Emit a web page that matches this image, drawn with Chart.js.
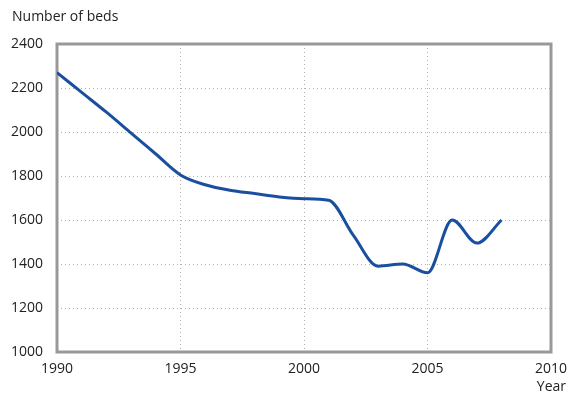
<!DOCTYPE html>
<html><head><meta charset="utf-8">
<script src="https://cdn.jsdelivr.net/npm/chart.js@4"></script>
<style>html,body{margin:0;padding:0;background:#fff}#wrap{width:568px;height:395px}</style>
</head><body><div id="wrap"><canvas id="c" width="568" height="395"></canvas></div>
<script>
const years = [1990,1991,1992,1993,1994,1995,1996,1997,1998,1999,2000,2001,2002,2003,2004,2005,2006,2007,2008];
const beds  = [2270,2180,2090,1995,1900,1805,1760,1735,1720,1705,1697,1690,1530,1390,1400,1360,1600,1495,1600];
const xTicks = [1990,1995,2000,2005,2010];
const yTicks = [1000,1200,1400,1600,1800,2000,2200,2400];
const yTitle = 'Number of beds';
const xTitle = 'Year';

const FONT = '"Open Sans", "Noto Sans", sans-serif';
const extras = {
  id:'extras',
  beforeDatasetsDraw(chart){
    const a = chart.chartArea, ctx = chart.ctx;
    ctx.save();
    ctx.strokeStyle = '#999'; ctx.lineWidth = 3;
    ctx.strokeRect(a.left, a.top, a.right - a.left, a.bottom - a.top);
    ctx.restore();
  },
  afterDraw(chart){
    const ctx = chart.ctx;
    ctx.save();
    ctx.fillStyle = '#222';
    ctx.font = '14px ' + FONT;
    ctx.textBaseline = 'middle';
    ctx.textAlign = 'left';
    ctx.fillText(yTitle, 12, 17);
    ctx.textAlign = 'right';
    ctx.fillText(xTitle, 566, 387);
    ctx.restore();
  }
};

new Chart(document.getElementById('c'), {
  type:'line',
  data:{ datasets:[{ data: years.map((y,i)=>({x:y,y:beds[i]})), borderColor:'#1a4fa0', borderWidth:3, pointRadius:0, cubicInterpolationMode:'monotone', fill:false }]},
  options:{
    responsive:false, animation:false, devicePixelRatio:1,
    layout:{padding:{top:44,right:17,left:0,bottom:0}},
    plugins:{legend:{display:false}, tooltip:{enabled:false}, title:{display:false}},
    scales:{
      x:{ type:'linear', min:1990, max:2010,
          afterBuildTicks(s){ s.ticks = xTicks.map(v=>({value:v})); },
          afterFit(s){ s.height = 43; s.paddingRight = 0; s.paddingLeft = 0; },
          grid:{color:'#b0b0b0', lineWidth:1, drawTicks:false},
          border:{display:false, dash:[1,3]},
          ticks:{padding:9, color:'#222', font:{family:FONT,size:14}, maxRotation:0, callback:v=>String(v)} },
      y:{ min:1000, max:2400,
          afterBuildTicks(s){ s.ticks = yTicks.map(v=>({value:v})); },
          afterFit(s){ s.width = 57; s.paddingTop = 0; s.paddingBottom = 0; },
          grid:{color:'#b0b0b0', lineWidth:1, drawTicks:false},
          border:{display:false, dash:[1,3]},
          ticks:{padding:14, color:'#222', font:{family:FONT,size:14}, callback:v=>String(v)} }
    }
  },
  plugins:[extras]
});
</script></body></html>
